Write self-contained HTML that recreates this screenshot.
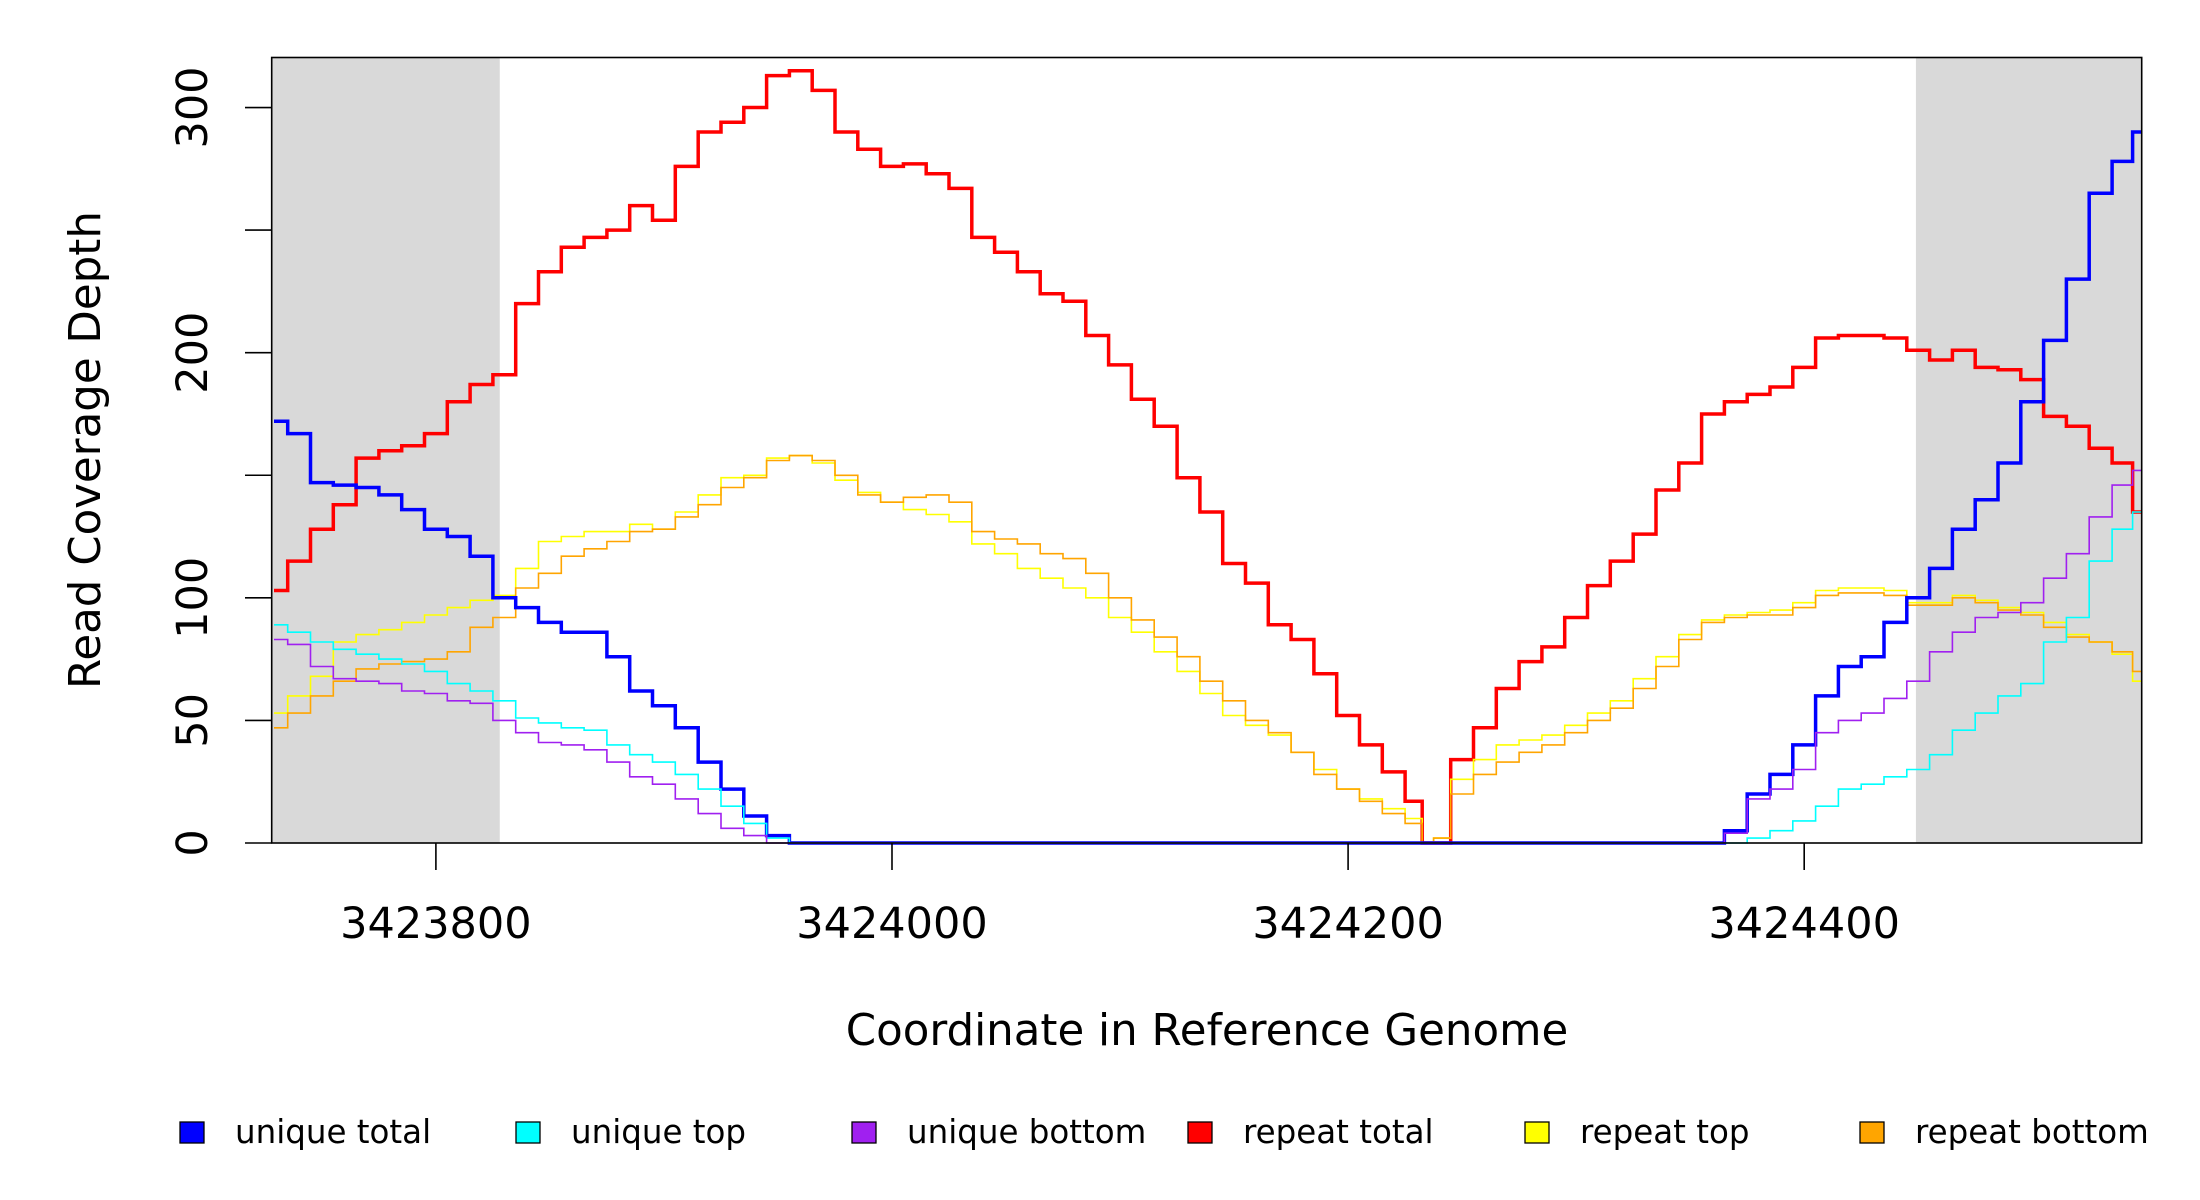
<!DOCTYPE html>
<html><head><meta charset="utf-8"><style>
html,body{margin:0;padding:0;background:#fff;}
svg{display:block;font-family:"DejaVu Sans","Liberation Sans",sans-serif;}
</style></head><body>
<svg id="chart" width="2200" height="1200" viewBox="0 0 2200 1200" xmlns="http://www.w3.org/2000/svg">
<g id="bg"></g>
<g id="series"></g>
<g id="axes"></g>
<text x="1207" y="1045" font-size="43.5" text-anchor="middle">Coordinate in Reference Genome</text>
<text transform="translate(100,450) rotate(-90)" font-size="43.5" text-anchor="middle">Read Coverage Depth</text>
<g id="legend"></g>
</svg>
<script>
const positions=[];
const posStart=3423730;
for(let i=0;i<51;i++)positions.push(posStart+i*10);
positions.push(3424235);
for(let i=0;i<31;i++)positions.push(3424240+i*10);
positions.push(3424548);

const seriesNames=["unique total","unique top","unique bottom","repeat total","repeat top","repeat bottom"];
const uniqueTotal=[172,167,147,146,145,142,136,128,125,117,100,96,90,86,86,76,62,56,47,33,22,11,3,0,0,0,0,0,0,0,0,0,0,0,0,0,0,0,0,0,0,0,0,0,0,0,0,0,0,0,0,
0,
0,0,0,0,0,0,0,0,0,0,0,0,0,5,20,28,40,60,72,76,90,100,112,128,140,155,180,205,230,265,278,
290];
const uniqueTop=[89,86,82,79,77,75,73,70,65,62,58,51,49,47,46,40,36,33,28,22,15,8,2,0,0,0,0,0,0,0,0,0,0,0,0,0,0,0,0,0,0,0,0,0,0,0,0,0,0,0,0,
0,
0,0,0,0,0,0,0,0,0,0,0,0,0,0,2,5,9,15,22,24,27,30,36,46,53,60,65,82,92,115,128,
135];
const uniqueBottom=[83,81,72,67,66,65,62,61,58,57,50,45,41,40,38,33,27,24,18,12,6,3,0,0,0,0,0,0,0,0,0,0,0,0,0,0,0,0,0,0,0,0,0,0,0,0,0,0,0,0,0,
0,
0,0,0,0,0,0,0,0,0,0,0,0,0,4,18,22,30,45,50,53,59,66,78,86,92,94,98,108,118,133,146,
152];
const repeatTotal=[103,115,128,138,157,160,162,167,180,187,191,220,233,243,247,250,260,254,276,290,294,300,313,315,307,290,283,276,277,273,267,247,241,233,224,221,207,195,181,170,149,135,114,106,89,83,69,52,40,29,17,
0,
0,34,47,63,74,80,92,105,115,126,144,155,175,180,183,186,194,206,207,207,206,201,197,201,194,193,189,174,170,161,155,
135];
const repeatTop=[53,60,68,82,85,87,90,93,96,99,101,112,123,125,127,127,130,128,135,142,149,150,157,158,155,148,143,139,136,134,131,122,118,112,108,104,100,92,86,78,70,61,52,48,44,37,30,22,18,14,10,
0,
2,26,34,40,42,44,48,53,58,67,76,85,91,93,94,95,98,103,104,104,103,98,98,101,99,96,94,90,85,82,77,
66];
const repeatBottom=[47,53,60,66,71,73,74,75,78,88,92,104,110,117,120,123,127,128,133,138,145,149,156,158,156,150,142,139,141,142,139,127,124,122,118,116,110,100,91,84,76,66,58,50,45,37,28,22,17,12,8,
0,
2,20,28,33,37,40,45,50,55,63,72,83,90,92,93,93,96,101,102,102,101,97,97,100,98,95,93,88,84,82,78,
70];
const xTicks=[3423800,3424000,3424200,3424400];
const yTicks=[0,50,100,150,200,250,300];
const yTickLabels=["0","50","100","","200","","300"];
const shadeRegions=[[3423728,3423828],[3424449,3424548]];

const NS="http://www.w3.org/2000/svg";
const PL=271.7,PR=2141.7,PT=57.5,PB=843;
const XMIN=3423728,XMAX=3424548,YMAX=320.4;
function xs(v){return PL+(v-XMIN)/(XMAX-XMIN)*(PR-PL);}
function ys(v){return PB-v/YMAX*(PB-PT);}
function mk(tag,attrs,parent){const e=document.createElementNS(NS,tag);for(const k in attrs)e.setAttribute(k,attrs[k]);parent.appendChild(e);return e;}

const bg=document.getElementById('bg');
shadeRegions.forEach(r=>{
  const e=mk('rect',{x:xs(r[0]),y:PT,width:xs(r[1])-xs(r[0]),height:PB-PT,fill:'#d9d9d9'},bg);
  
  
});

const colors=["#0000ff","#00ffff","#a020f0","#ff0000","#ffff00","#ffa500"];
const widths=[3.5,1.6,1.6,3.5,1.6,1.6];
const data=[uniqueTotal,uniqueTop,uniqueBottom,repeatTotal,repeatTop,repeatBottom];
const names=["unique-total-line","unique-top-line","unique-bottom-line","repeat-total-line","repeat-top-line","repeat-bottom-line"];
const order=[3,4,5,0,1,2];
const sg=document.getElementById('series');
order.forEach(si=>{
  const vals=data[si];
  let d="M"+xs(XMIN+1).toFixed(1)+","+ys(vals[0]).toFixed(1);
  for(let i=1;i<positions.length;i++){
    const mid=(positions[i-1]+positions[i])/2;
    d+="H"+xs(mid).toFixed(1)+"V"+ys(vals[i]).toFixed(1);
  }
  d+="H"+xs(XMAX).toFixed(1);
  const p=mk('path',{d:d,fill:'none',stroke:colors[si],'stroke-width':widths[si]},sg);
  
  
});

const ax=document.getElementById('axes');
const box=mk('rect',{x:PL,y:PT,width:PR-PL,height:PB-PT,fill:'none',stroke:'#000','stroke-width':1.6},ax);


yTicks.forEach((t,i)=>{
  const y=ys(t);
  const l=mk('line',{x1:245,x2:PL,y1:y,y2:y,stroke:'#000','stroke-width':1.6},ax);
  
  
  if(yTickLabels[i]){
    const tx=mk('text',{transform:`translate(207,${y}) rotate(-90)`,'font-size':43,'text-anchor':'middle'},ax);
    tx.textContent=yTickLabels[i];
    
    
  }
});
xTicks.forEach(t=>{
  const x=xs(t);
  const l=mk('line',{x1:x,x2:x,y1:PB,y2:870,stroke:'#000','stroke-width':1.6},ax);
  
  
  const tx=mk('text',{x:x,y:938,'font-size':43,'text-anchor':'middle'},ax);
  tx.textContent=String(t);
  
  
});

const lg=document.getElementById('legend');
const legX=[180,516,852,1188,1525,1860];
seriesNames.forEach((n,i)=>{
  const g=mk('g',{},lg);
  
  
  mk('rect',{x:legX[i],y:1122,width:24,height:21,fill:colors[i],stroke:'#000','stroke-width':1.3},g);
  const t=mk('text',{x:legX[i]+55,y:1143,'font-size':32.5},g);
  t.textContent=n;
});
</script>
</body></html>
